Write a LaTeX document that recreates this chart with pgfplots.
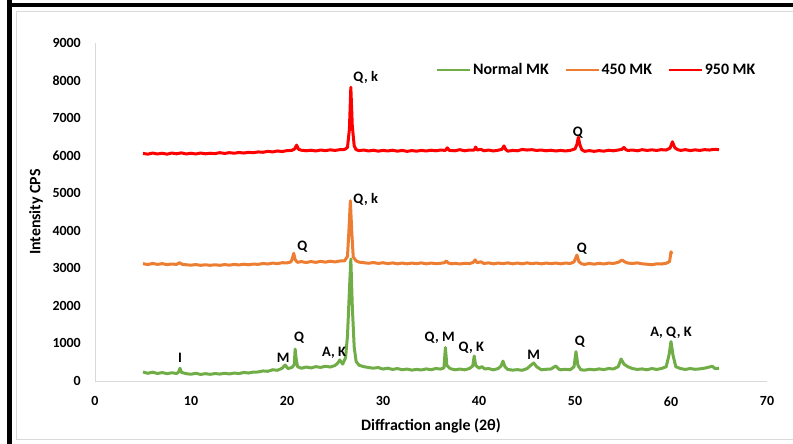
\documentclass[border=0pt]{standalone}
\usepackage{fontspec}
\setmainfont{Carlito}
\usepackage{pgfplots}
\pgfplotsset{compat=1.18}
\definecolor{xgreen}{HTML}{70AD47}
\definecolor{xorange}{HTML}{ED7D31}
\definecolor{xred}{HTML}{FF0000}
\definecolor{xgray}{HTML}{D9D9D9}
\newcommand{\annot}[3]{\node[font=\bfseries\fontsize{14.5}{16}\selectfont, inner sep=0pt, anchor=center] at (axis cs:#1,#2) {#3};}
\begin{document}
\begin{tikzpicture}
\useasboundingbox (0,0) rectangle (793bp,444bp);
% outer frames
\draw[xgray, line width=1bp] (793bp,432bp) -- (16bp,432bp) -- (16bp,4bp) -- (793bp,4bp);
\draw[black, line width=4bp] (7.5bp,438.7bp) -- (793bp,438.7bp);
\draw[black, line width=5bp] (9.8bp,444bp) -- (9.8bp,0bp);
\begin{axis}[
  at={(95bp,63bp)}, anchor=south west,
  scale only axis, width=672bp, height=338bp,
  xmin=0, xmax=70, ymin=0, ymax=9000,
  axis x line*=bottom, axis y line*=left,
  axis line style={xgray, line width=1bp},
  xtick={0,10,...,70}, ytick={0,1000,...,9000},
  major tick length=0pt,
  /pgf/number format/assume math mode=true,
  /pgf/number format/1000 sep={},
  ticklabel style={font=\bfseries\fontsize{14}{16}\selectfont, inner sep=0pt},
  yticklabel style={anchor=east, xshift=-14bp},
  xticklabel style={anchor=north, yshift=-15.5bp},
  xlabel={\bfseries Diffraction angle (2θ)},
  ylabel={\bfseries Intensity CPS},
  label style={font=\bfseries\fontsize{16}{18}\selectfont, inner sep=0pt},
  xlabel style={at={([yshift=-49.7bp]axis description cs:0.5,0)}, anchor=base},
  ylabel style={at={([xshift=-59bp]axis description cs:0,0.5)}, anchor=center},
  legend style={at={(0.746,0.920)}, anchor=center, draw=none, fill=none,
    font=\bfseries\fontsize{16}{18}\selectfont, legend columns=3,
    /tikz/every even column/.append style={column sep=14bp},
    nodes={inner sep=1.5bp}},
  legend image code/.code={\draw[#1, line width=2.8bp] (0bp,0bp) -- (33bp,0bp);},
  every axis plot/.append style={line width=3bp, line join=round},
]
\addplot[xgreen] coordinates {
(5,240)(5.5,205)(6,235)(6.5,200)(7,225)(7.5,195)(8,220)(8.5,200)(8.7,235)(8.85,340)(9,230)(9.5,195)(10,180)(10.5,205)(11,175)(11.5,195)(12,178)(12.5,198)(13,185)(13.5,205)(14,188)(14.5,212)(15,198)(15.5,228)(16,212)(16.5,238)(17,240)(17.5,268)(18,258)(18.5,300)(19,285)(19.5,340)(19.8,425)(20.1,330)(20.5,360)(20.75,430)(20.85,850)(20.95,600)(21.1,380)(21.5,340)(22,372)(22.5,348)(23,382)(23.5,362)(24,392)(24.5,372)(25,412)(25.3,480)(25.5,560)(25.8,450)(26.1,620)(26.3,1200)(26.5,2400)(26.65,3250)(26.8,2000)(27,900)(27.2,520)(27.5,420)(28,382)(28.5,358)(29,342)(29.5,358)(30,318)(30.5,342)(31,308)(31.5,332)(32,300)(32.5,318)(33,290)(33.5,308)(34,294)(34.5,322)(35,300)(35.5,332)(36,318)(36.35,350)(36.5,890)(36.65,420)(37,330)(37.5,298)(38,318)(38.5,298)(39,332)(39.35,400)(39.5,665)(39.65,420)(40,340)(40.3,382)(40.6,320)(41,332)(41.5,298)(42,332)(42.3,400)(42.5,530)(42.7,380)(43,308)(43.5,290)(44,302)(44.5,285)(45,330)(45.4,420)(45.7,480)(46,380)(46.5,298)(47,312)(47.5,320)(48,400)(48.3,320)(48.5,298)(49,312)(49.5,298)(49.9,380)(50.1,780)(50.3,420)(50.6,300)(51,288)(51.5,312)(52,298)(52.5,322)(53,304)(53.5,332)(54,320)(54.5,380)(54.8,585)(55.1,450)(55.5,380)(56,330)(56.5,308)(57,322)(57.5,298)(58,332)(58.5,308)(59,332)(59.5,380)(59.8,700)(60,1050)(60.2,700)(60.5,380)(61,330)(61.5,308)(62,332)(62.5,312)(63,322)(63.5,342)(64,372)(64.3,392)(64.6,330)(65,340)
};
\addlegendentry{Normal MK}
\addplot[xorange] coordinates {
(5,3125)(5.5,3100)(6,3130)(6.5,3105)(7,3125)(7.5,3100)(8,3115)(8.5,3105)(8.8,3150)(9.1,3105)(9.5,3095)(10,3085)(10.5,3100)(11,3080)(11.5,3095)(12,3080)(12.5,3095)(13,3080)(13.5,3100)(14,3085)(14.5,3105)(15,3090)(15.5,3110)(16,3095)(16.5,3115)(17,3105)(17.5,3130)(18,3115)(18.5,3140)(19,3125)(19.5,3150)(20,3145)(20.4,3170)(20.55,3250)(20.7,3400)(20.85,3230)(21.1,3160)(21.5,3180)(22,3155)(22.5,3180)(23,3160)(23.5,3185)(24,3165)(24.5,3190)(25,3170)(25.5,3195)(26,3200)(26.3,3320)(26.45,4000)(26.6,4800)(26.75,3950)(26.9,3300)(27.2,3200)(27.5,3165)(28,3150)(28.5,3135)(29,3155)(29.5,3130)(30,3150)(30.5,3125)(31,3145)(31.5,3120)(32,3140)(32.5,3120)(33,3140)(33.5,3125)(34,3145)(34.5,3120)(35,3140)(35.5,3125)(36,3135)(36.4,3150)(36.6,3195)(36.8,3140)(37.2,3120)(37.5,3135)(38,3115)(38.5,3135)(39,3125)(39.4,3160)(39.6,3225)(39.8,3150)(40.2,3175)(40.5,3130)(41,3145)(41.5,3120)(42,3140)(42.5,3125)(43,3145)(43.5,3120)(44,3140)(44.5,3120)(45,3145)(45.5,3125)(46,3140)(46.5,3120)(47,3140)(47.5,3125)(48,3140)(48.5,3120)(49,3140)(49.5,3130)(49.9,3170)(50.2,3355)(50.4,3180)(50.7,3120)(51,3105)(51.5,3130)(52,3110)(52.5,3135)(53,3115)(53.5,3140)(54,3130)(54.5,3160)(54.9,3220)(55.2,3170)(55.5,3140)(56,3130)(56.5,3145)(57,3120)(57.5,3110)(58,3095)(58.5,3120)(59,3115)(59.5,3135)(59.85,3180)(60,3440)(60.08,3380)
};
\addlegendentry{450 MK}
\addplot[xred] coordinates {
(5,6060)(5.5,6040)(6,6070)(6.5,6045)(7,6065)(7.5,6040)(8,6070)(8.5,6050)(9,6075)(9.5,6045)(10,6065)(10.5,6045)(11,6070)(11.5,6050)(12,6065)(12.5,6055)(13,6080)(13.5,6060)(14,6080)(14.5,6065)(15,6085)(15.5,6070)(16,6090)(16.5,6080)(17,6100)(17.5,6090)(18,6115)(18.5,6100)(19,6125)(19.5,6110)(20,6135)(20.5,6140)(20.8,6180)(21,6280)(21.2,6170)(21.5,6145)(22,6130)(22.5,6145)(23,6125)(23.5,6150)(24,6135)(24.5,6155)(25,6140)(25.5,6160)(26,6165)(26.3,6220)(26.5,6700)(26.65,7820)(26.8,6800)(27,6260)(27.2,6160)(27.5,6135)(28,6150)(28.5,6125)(29,6145)(29.5,6120)(30,6140)(30.5,6125)(31,6145)(31.5,6120)(32,6140)(32.5,6115)(33,6135)(33.5,6120)(34,6140)(34.5,6125)(35,6145)(35.5,6130)(36,6150)(36.5,6140)(36.7,6210)(36.9,6140)(37.5,6130)(38,6160)(38.5,6130)(39,6150)(39.5,6150)(39.65,6230)(39.8,6150)(40.2,6170)(40.5,6130)(41,6150)(41.5,6125)(42,6145)(42.4,6170)(42.6,6260)(42.8,6160)(43,6120)(43.5,6140)(44,6130)(44.5,6165)(45,6150)(45.5,6160)(46,6140)(46.5,6150)(47,6130)(47.5,6145)(48,6125)(48.5,6140)(49,6125)(49.5,6140)(50,6180)(50.2,6300)(50.35,6490)(50.5,6300)(50.7,6160)(51,6115)(51.5,6135)(52,6115)(52.5,6135)(53,6120)(53.5,6145)(54,6130)(54.5,6150)(54.9,6170)(55.1,6220)(55.3,6160)(55.5,6140)(56,6150)(56.5,6130)(57,6160)(57.5,6140)(58,6155)(58.5,6140)(59,6160)(59.5,6150)(59.9,6200)(60.15,6370)(60.4,6210)(60.7,6160)(61,6140)(61.5,6160)(62,6135)(62.5,6155)(63,6140)(63.5,6160)(64,6150)(64.5,6170)(65,6160)
};
\addlegendentry{950 MK}
\annot{28.2}{8094}{Q, k}
\annot{28.2}{4846}{Q, k}
\annot{50.3}{6603}{Q}
\annot{21.6}{3568}{Q}
\annot{50.7}{3514}{Q}
\annot{8.85}{612}{I}
\annot{19.6}{612}{M}
\annot{21.25}{1145}{Q}
\annot{24.9}{745}{A, K}
\annot{35.9}{1145}{Q, M}
\annot{39.2}{879}{Q, K}
\annot{45.7}{692}{M}
\annot{50.5}{1038}{Q}
\annot{60.0}{1278}{A, Q, K}
\end{axis}
\end{tikzpicture}
\end{document}
